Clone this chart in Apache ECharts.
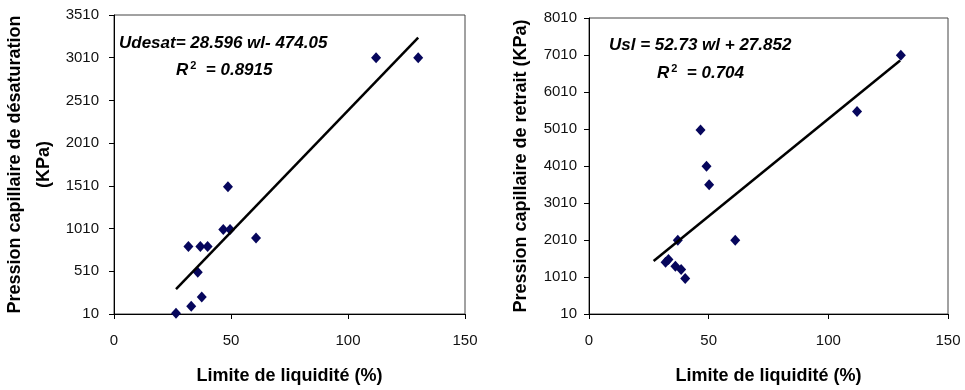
<!DOCTYPE html>
<html>
<head>
<meta charset="utf-8">
<script src="https://cdn.jsdelivr.net/npm/echarts@6/dist/echarts.min.js"></script>
<style>
  html, body { margin: 0; padding: 0; background: #fff; }
  #chart { width: 965px; height: 390px; }
</style>
</head>
<body>
<div id="chart"></div>
<script>
// donnees
var wlLeft = [26.5, 33, 37.5, 35.8, 31.8, 36.9, 40, 46.7, 49.6, 48.7, 60.7, 112, 130];
var udesat = [20, 100, 210, 500, 800, 800, 800, 1000, 1000, 1500, 900, 3010, 3010];
var wlRight = [130.3, 112, 46.6, 49.1, 50.2, 37.1, 61.1, 32, 33.2, 36.1, 38.5, 40.2];
var usl = [7000, 5480, 4980, 4000, 3500, 2000, 2000, 1410, 1480, 1300, 1210, 970];

// extremites des droites de tendance
var trendLeftX = [26.5, 130];
var trendLeftY = [300, 3245];
var trendRightX = [27, 130];
var trendRightY = [1440, 6860];

// graduations
var xTicks = [0, 50, 100, 150];
var yTicksLeft = [10, 510, 1010, 1510, 2010, 2510, 3010, 3510];
var yTicksRight = [10, 1010, 2010, 3010, 4010, 5010, 6010, 7010, 8010];

function pairs(xs, ys) {
  return xs.map(function (x, i) { return [x, ys[i]]; });
}

var font = "Liberation Sans, Arial, sans-serif";
var labelStyle = { color: "#111", fontSize: 15, fontFamily: font };
var nameStyle = { color: "#000", fontSize: 18, fontWeight: "bold", fontFamily: font };

function plain(v) {
  return String(v);
}

function xAxisFor(gridIndex) {
  return {
    gridIndex: gridIndex,
    type: "value",
    min: 0,
    max: 150,
    interval: 50,
    name: "Limite de liquidité (%)",
    nameLocation: "middle",
    nameGap: 53,
    nameTextStyle: nameStyle,
    axisLine: { lineStyle: { color: "#000", width: 1 } },
    axisTick: { length: 5, lineStyle: { color: "#000" } },
    axisLabel: Object.assign({ margin: 19, customValues: xTicks, formatter: plain }, labelStyle),
    splitLine: { show: false }
  };
}

function yAxisFor(gridIndex, max, ticks, name, gap, margin) {
  return {
    gridIndex: gridIndex,
    type: "value",
    min: 10,
    max: max,
    name: name,
    nameLocation: "middle",
    nameGap: gap,
    nameTextStyle: Object.assign({ lineHeight: 29 }, nameStyle),
    axisLine: { show: true, lineStyle: { color: "#000", width: 1 } },
    axisTick: { show: true, length: 5, customValues: ticks, lineStyle: { color: "#000" } },
    axisLabel: Object.assign({ margin: margin, customValues: ticks, formatter: plain }, labelStyle),
    splitLine: { show: false }
  };
}

var eqStyle = { fontSize: 17, fontWeight: "bold", fontStyle: "italic", fontFamily: font, fill: "#000" };

function eqText(x, y, txt) {
  return { type: "text", left: x, top: y, style: Object.assign({ text: txt }, eqStyle) };
}

function r2Text(x, y, val) {
  return {
    type: "text",
    left: x,
    top: y,
    style: {
      text: "{r|R}{s|2}{r|  = " + val + "}",
      rich: {
        r: Object.assign({}, eqStyle),
        s: Object.assign({}, eqStyle, { fontSize: 11, fontStyle: "normal", verticalAlign: "top", padding: [0, 0, 9, 2] })
      }
    }
  };
}

var chart = echarts.init(document.getElementById("chart"));
var option = {
  backgroundColor: "#fff",
  animation: false,
  grid: [
    { left: 113, top: 15, width: 352, height: 299, show: true, borderColor: "#444", borderWidth: 1 },
    { left: 589, top: 18, width: 359, height: 296, show: true, borderColor: "#444", borderWidth: 1 }
  ],
  xAxis: [xAxisFor(0), xAxisFor(1)],
  yAxis: [
    yAxisFor(0, 3510, yTicksLeft, "Pression capillaire de désaturation\n(KPa)", 55, 15),
    yAxisFor(1, 8010, yTicksRight, "Pression capillaire de retrait (KPa)", 53, 12)
  ],
  series: [
    {
      type: "scatter",
      xAxisIndex: 0,
      yAxisIndex: 0,
      symbol: "diamond",
      symbolSize: [10, 11],
      itemStyle: { color: "#06065c", opacity: 1 },
      data: pairs(wlLeft, udesat),
      z: 3
    },
    {
      type: "line",
      xAxisIndex: 0,
      yAxisIndex: 0,
      showSymbol: false,
      lineStyle: { color: "#000", width: 2.5 },
      data: pairs(trendLeftX, trendLeftY),
      z: 4
    },
    {
      type: "scatter",
      xAxisIndex: 1,
      yAxisIndex: 1,
      symbol: "diamond",
      symbolSize: [10, 11],
      itemStyle: { color: "#06065c", opacity: 1 },
      data: pairs(wlRight, usl),
      z: 3
    },
    {
      type: "line",
      xAxisIndex: 1,
      yAxisIndex: 1,
      showSymbol: false,
      lineStyle: { color: "#000", width: 2.5 },
      data: pairs(trendRightX, trendRightY),
      z: 4
    }
  ],
  graphic: [
    eqText(119, 35, "Udesat= 28.596 wl- 474.05"),
    r2Text(176, 60, "0.8915"),
    eqText(609, 37, "Usl = 52.73 wl + 27.852"),
    r2Text(657, 63, "0.704")
  ]
};
chart.setOption(option);
</script>
</body>
</html>
